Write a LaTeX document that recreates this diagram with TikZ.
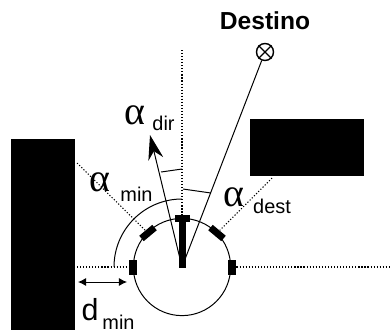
\documentclass[tikz,border=0pt]{standalone}
\usepackage{fontspec}
\setmainfont{Liberation Sans}
\newfontfamily\greekfont{Liberation Serif}
\usetikzlibrary{arrows.meta}
\tikzset{
  wall/.style={fill=black,draw=none,inner sep=0pt,anchor=north west},
  pad/.style={fill=black,draw=none,inner sep=0pt,minimum width=6.8pt,minimum height=12.8pt},
  guide/.style={dash pattern=on 1pt off 1.6pt,line width=0.9pt},
  sub/.style={inner sep=0pt,font=\fontsize{17}{17}\selectfont},
  greek/.style={inner sep=0pt,font=\greekfont\fontsize{34}{34}\selectfont},
}
\begin{document}
\begin{tikzpicture}[x=0.03cm,y=-0.03cm,line width=0.85pt]
\useasboundingbox (0,0) rectangle (391,334);
\node[wall,minimum width=54.4pt,minimum height=163.2pt] (left) at (11,138) {};
\node[wall,minimum width=97.8pt,minimum height=49.3pt] (right) at (249,118) {};
\node[draw,circle,inner sep=0pt,minimum size=83pt] (robot) at (182,267) {};
\coordinate (c) at (182,267);
\node[circle,draw,line width=1.2pt,inner sep=0pt,minimum size=14.5pt] (goal) at (265,52) {};
\draw[line width=1.2pt] (goal.north west) -- (goal.south east) (goal.north east) -- (goal.south west);
\node[font=\bfseries\fontsize{21}{21}\selectfont,inner sep=0pt] (dest) at (265,21) {Destino};
% sensors
\node[pad] (s1) at (133,267) {};
\node[pad] (s2) at (232,267) {};
\node[pad,rotate=-50,minimum width=6pt,minimum height=14.5pt] (s3) at (148,233) {};
\node[pad,rotate=50,minimum width=6pt,minimum height=14.5pt] (s4) at (217,233) {};
\node[pad,minimum width=12.8pt,minimum height=5.5pt] (s5) at (182,218.5) {};
\fill (179,218) rectangle (186,268);
% guides
\coordinate (v) at (182,50);
\draw[guide] (v) -- (c);
\draw[guide] (77,267) -- (s1);
\draw[guide] (s2) -- (391,267);
\coordinate (m) at (77,163);
\coordinate (n) at (272,178);
\draw[guide] (m) -- (s3);
\draw[guide] (n) -- (s4);
% directions
\coordinate (tip) at (150,135);
\draw (c) -- (goal);
\draw[-{Stealth[length=21pt,width=13pt]}] (c) -- (tip);
% angles
\draw (114,267) arc[start angle=180,end angle=270,radius=68];
\draw (183,189) -- (197,191) -- (211,193);
\draw (161,172) -- (182,169);
\coordinate (d1) at (78,282);
\coordinate (d2) at (127,282);
\draw[{Latex[length=7pt,width=7pt]}-{Latex[length=7pt,width=7pt]}] (d1) -- (d2);
% labels
\node[greek] (a1) at (135,115) {α};
\node[sub] (t1) at (163.5,123.5) {dir};
\node[greek] (a2) at (100,182) {α};
\node[sub] (t2) at (136.5,194) {min};
\node[greek] (a3) at (234,197) {α};
\node[sub] (t3) at (272,206) {dest};
\node[inner sep=0pt,font=\fontsize{26}{26}\selectfont] (a4) at (90,310) {d};
\node[sub] (t4) at (118.5,322) {min};
\end{tikzpicture}
\end{document}
